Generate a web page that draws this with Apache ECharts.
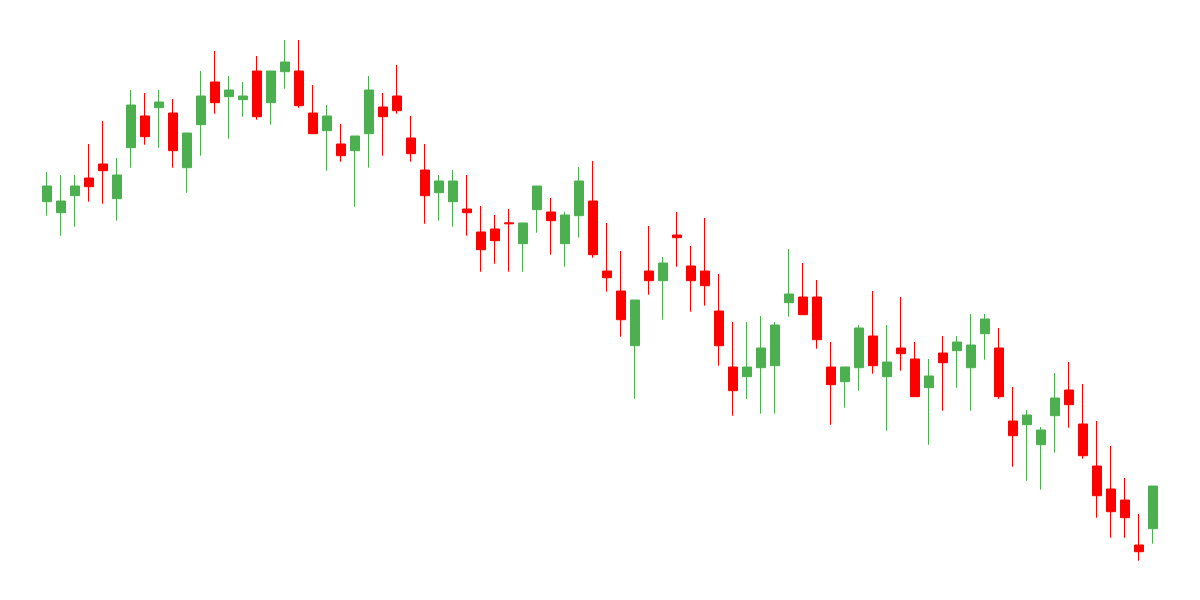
<!DOCTYPE html>
<html>
<head>
<meta charset="utf-8">
<script src="https://cdn.jsdelivr.net/npm/echarts@6/dist/echarts.min.js"></script>
<style>html,body{margin:0;padding:0;background:#fff;}#chart{width:1200px;height:600px;}</style>
</head>
<body>
<div id="chart"></div>
<script>
const openVals  = [398.3,387.3,404.3,422,436,401.3,452.3,484,492.3,487,432.3,475.3,518,503.3,500.3,529,497.3,528.3,529,487,469.3,456,449.3,466.3,493,504,462,430,407.3,398.3,391,368,371,377.2,356.3,390.3,388,356.3,384.3,399,329,309,254.3,329,319.3,365,334,329,289,233,223.3,232.3,234.3,297.3,303,303,233,218.3,232.3,264,223.3,252,241,212.3,247,249.3,232.3,266.3,252,179,175.3,155.3,184.3,210,176,134,111,100,55,71.3];
const closeVals = [414,399,414,413.3,429.3,425,495,463.3,498,449.3,467,504,497.3,510,504,483.3,529,538,494.3,466.3,484,444.3,464,510,483.3,489.3,446.3,404.3,419,419,387.3,350.3,359.3,376.2,377,414,379.3,385,419,345.3,322.3,280.3,300,319.3,337,362.3,319.3,314.3,254.3,209.3,233,252,275,306,285.3,260.3,215.3,233,272,234.3,238,246.3,203.3,224,237.3,258,255,281,203.3,164.3,185,170,202,195.3,144.3,104.3,88.3,82.3,48.3,114];
const lowVals   = [384.3,364.3,373.3,398.3,396.3,379.3,432.3,455.3,452.3,432.3,407.3,444.3,486.3,461.3,483.3,480.3,475.3,511.3,492.3,466.3,429.3,438.3,393.3,432.3,444.3,486.3,438.3,376.3,379.3,373.3,364.3,328.3,336.3,328.3,328.3,367.3,345.3,333.3,362.3,342.3,308.3,263.3,201.3,305.3,280.3,333.3,288.3,294.3,234.3,184.3,201,186.3,186.3,283.3,285.3,251.3,175.3,192.3,209.3,226.3,169.3,229.3,203.3,155.3,189.3,212.3,189.3,240.3,201.3,133.3,119.3,110.3,147.3,172.3,141.3,82.3,62.3,62.3,39.3,56.3];
const highVals  = [428,425,425,456,479,442,510,507,510,501,467,529,549,524,518,544,529,560,560,515,495,476,464,524,507,535,484,456,425,430,425,394,385,391,377,414,402,388.3,433,439,377,349,300,374,343,388,354,382,326,278,278,284,278,351,337,320,258,233,275,309,275,303,258,241,264,264,286,286,272,213,190,173,227,238,216,179,154,122,86,114];
const categories = [];
for (let i = 1; i <= openVals.length; i++) categories.push('Day ' + i);

const data = openVals.map((o, i) => [o, closeVals[i], lowVals[i], highVals[i]]);

const chart = echarts.init(document.getElementById('chart'));
chart.setOption({
  animation: false,
  backgroundColor: '#ffffff',
  grid: { left: 40, right: 40, top: 0, bottom: 0 },
  xAxis: { type: 'category', data: categories, show: false, boundaryGap: true },
  yAxis: { type: 'value', min: 0, max: 600, show: false },
  series: [{
    type: 'candlestick',
    data: data,
    barWidth: 10,
    itemStyle: {
      color: '#4CAF50',
      color0: '#FF0000',
      borderColor: '#4CAF50',
      borderColor0: '#FF0000',
      borderWidth: 1
    }
  }]
});
</script>
</body>
</html>
